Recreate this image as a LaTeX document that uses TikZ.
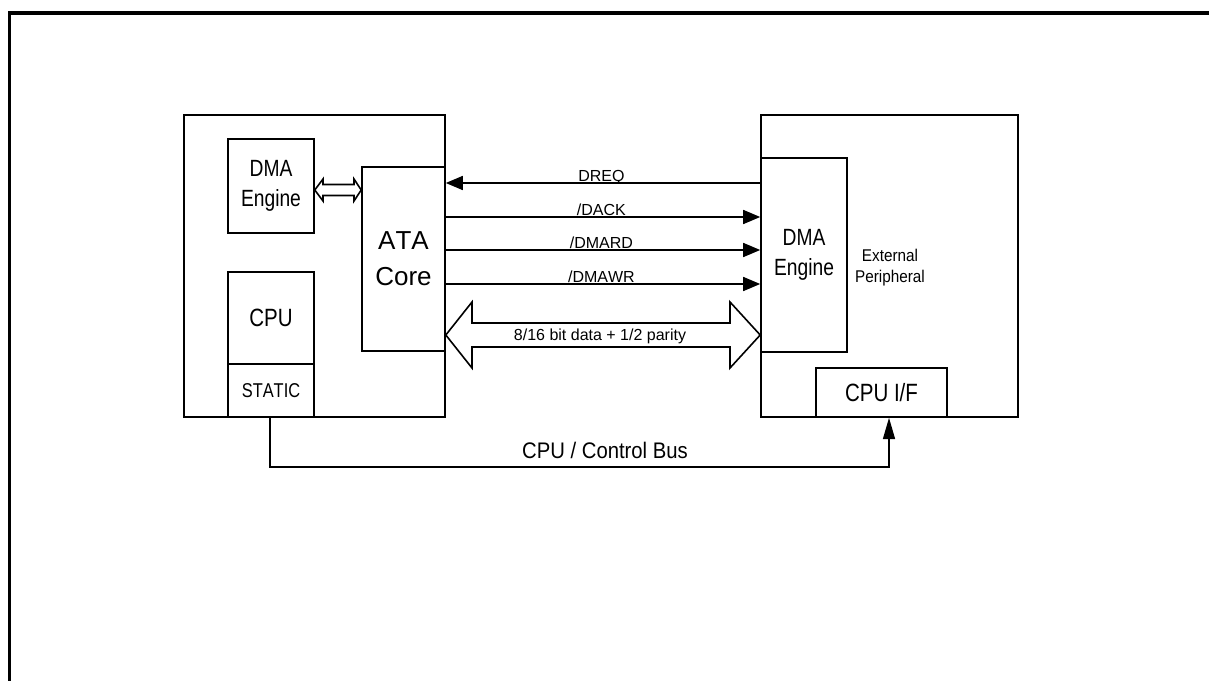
\documentclass[tikz,border=0pt]{standalone}
\usepackage{fontspec}
\setmainfont{Liberation Sans}
\newfontfamily\fA{Liberation Sans}[FakeStretch=0.82, Kerning=Off]
\newfontfamily\fB{Liberation Sans}[FakeStretch=0.9]
\newfontfamily\fN{Liberation Sans}[Kerning=Off]
\usetikzlibrary{arrows.meta,fit,calc}
\begin{document}
\begin{tikzpicture}[x=0.75pt,y=-0.75pt,
  box/.style={draw, line width=1.2pt, inner sep=0pt, fill=white},
  txt/.style={inner sep=0pt, align=center},
  wire/.style={line width=1.2pt},
  sig/.style={line width=1.2pt, -{Triangle[length=12.75pt,width=10.5pt]}},
  lbl/.style={font=\fN\fontsize{12}{14}\selectfont, inner sep=0pt, anchor=base, yshift=1pt}]
\useasboundingbox (0,0) rectangle (1209,681);
% outer frame
\draw[line width=2.3pt] (9.5,681) -- (9.5,13) -- (1209,13);
% host side
\node[box, fit={(184,115) (445,417)}] (host) {};
\node[box, fit={(228,139) (314,233)}] (dmaL) {};
\node[box, fit={(362,167) (445,351)}] (ata) {};
\node[box, fit={(228,272) (314,364)}] (cpu) {};
\node[box, fit={(228,364) (314,417)}] (static) {};
\node[txt, font=\fA\fontsize{17.6}{22.5}\selectfont] (tdmaL) at (dmaL.center) {DMA\\Engine};
\node[txt, font=\fN\fontsize{19.5}{27}\selectfont] (tata) at (ata.center) {ATA\\Core};
\node[txt, font=\fA\fontsize{18.75}{22}\selectfont] (tcpu) at (cpu.center) {CPU};
\node[txt, font=\fA\fontsize{15}{18}\selectfont] (tstatic) at (static.center) {STATIC};
% peripheral side
\node[box, fit={(761,115) (1018,417)}] (periph) {};
\node[box, fit={(761,158) (847,352)}] (dmaR) {};
\node[box, fit={(816,368) (947,417)}] (cpuif) {};
\node[txt, font=\fA\fontsize{17.6}{22.5}\selectfont] (tdmaR) at (dmaR.center) {DMA\\Engine};
\node[txt, font=\fA\fontsize{18.75}{22}\selectfont] (tcpuif) at (cpuif.center) {CPU I/F};
\node[txt, font=\fB\fontsize{12.75}{15.75}\selectfont] (ext) at (890,268) {External\\Peripheral};
% internal DMA <-> ATA hollow double arrow
\draw[wire] (dmaL.east |- 0,190) -- (323,179) -- (323,184.5) -- (354,184.5) -- (354,179)
  -- (ata.west |- 0,190) -- (354,201) -- (354,195.5) -- (323,195.5) -- (323,201) -- cycle;
% control signals
\draw[sig] (dmaR.west |- 0,183) -- (ata.east |- 0,183) node[lbl, pos=0.505] (lDREQ) {DREQ};
\draw[sig] (ata.east |- 0,217) -- (dmaR.west |- 0,217) node[lbl, pos=0.495] (lDACK) {/DACK};
\draw[sig] (ata.east |- 0,250) -- (dmaR.west |- 0,250) node[lbl, pos=0.495] (lDMARD) {/DMARD};
\draw[sig] (ata.east |- 0,284) -- (dmaR.west |- 0,284) node[lbl, pos=0.495] (lDMAWR) {/DMAWR};
% data bus hollow double arrow
\draw[wire] (ata.east |- 0,335) -- (472,302) -- (472,323) -- (730,323) -- (730,302)
  -- (dmaR.west |- 0,335) -- (730,368) -- (730,347) -- (472,347) -- (472,368) -- cycle;
\node[inner sep=0pt, anchor=base, font=\fN\fontsize{12}{14}\selectfont] (lbus) at (600,340) {8/16 bit data + 1/2 parity};
% CPU / control bus
\draw[wire, -{Triangle[length=16pt,width=9pt]}] (static.south -| 270,0) |- (889,467) -- (cpuif.south -| 889,0);
\node[inner sep=0pt, anchor=base, font=\fB\fontsize{16.9}{20}\selectfont] (lctrl) at (605,458) {CPU / Control Bus};
\end{tikzpicture}
\end{document}
